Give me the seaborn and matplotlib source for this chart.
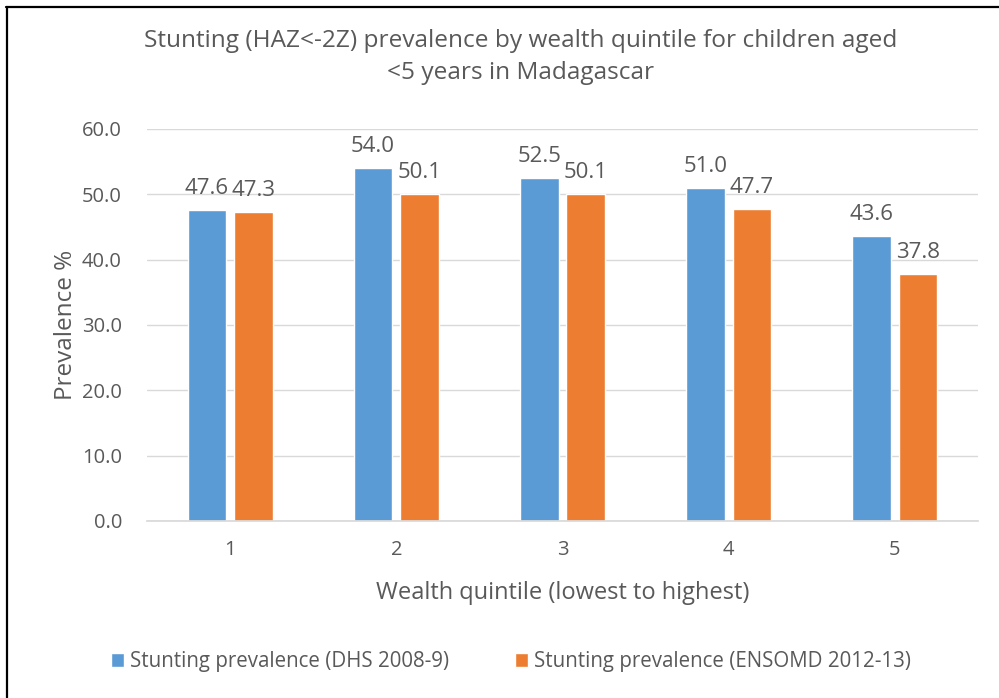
import matplotlib
matplotlib.use("Agg")
import matplotlib.pyplot as plt
import seaborn as sns
import pandas as pd
from matplotlib.lines import Line2D

quintiles = ["1", "2", "3", "4", "5"]
dhs_2008 = [47.6, 54.0, 52.5, 51.0, 43.6]
ensomd_2012 = [47.3, 50.1, 50.1, 47.7, 37.8]
series_names = ["Stunting prevalence (DHS 2008-9)", "Stunting prevalence (ENSOMD 2012-13)"]
y_ticks = [0, 10, 20, 30, 40, 50, 60]

df = pd.DataFrame({
    "quintile": quintiles * 2,
    "value": dhs_2008 + ensomd_2012,
    "series": [series_names[0]] * 5 + [series_names[1]] * 5,
})

sns.set_theme(style="white")
plt.rcParams["font.family"] = ["Open Sans", "DejaVu Sans"]
grey = "#595959"

fig = plt.figure(figsize=(9.99, 6.98), dpi=100)
ax = fig.add_axes([147 / 999, 1 - 521 / 698, (978 - 147) / 999, (521 - 129) / 698])

sns.barplot(data=df, x="quintile", y="value", hue="series", order=quintiles,
            palette=["#5B9BD5", "#ED7D31"], width=0.56, gap=0.17, ax=ax,
            legend=True, saturation=1)

for cont in ax.containers:
    ax.bar_label(cont, fmt="%.1f", padding=8, fontsize=16, color=grey)

ax.set_ylim(0, 60)
ax.set_yticks(y_ticks)
ax.set_yticklabels([f"{t:.1f}" for t in y_ticks])
ax.yaxis.grid(True, color="#D9D9D9", linewidth=1)
ax.set_axisbelow(True)
for s in ["left", "right", "top"]:
    ax.spines[s].set_visible(False)
ax.spines["bottom"].set_color("#D9D9D9")
ax.tick_params(axis="both", length=0, labelsize=14.5, labelcolor=grey)
ax.tick_params(axis="y", pad=18)
ax.tick_params(axis="x", pad=14)
ax.set_xlabel("Wealth quintile (lowest to highest)", fontsize=17, color=grey, labelpad=15)
ax.set_ylabel("Prevalence %", fontsize=17.5, color=grey, labelpad=3)

handles, labels = ax.get_legend_handles_labels()
ax.get_legend().remove()
fig.legend(handles, labels, loc="center", bbox_to_anchor=(511 / 999, 1 - 662 / 698),
           ncol=2, frameon=False, fontsize=14.8, labelcolor=grey,
           handlelength=0.65, handleheight=0.65, handletextpad=0.3, columnspacing=3.2)

fig.text(521 / 999, 1 - 57 / 698,
         "Stunting (HAZ<-2Z) prevalence by wealth quintile for children aged\n<5 years in Madagascar",
         ha="center", va="center", fontsize=17.6, color=grey, linespacing=1.45)

fig.add_artist(Line2D([6.5 / 999, 6.5 / 999], [0, 1 - 7 / 698], color="black", linewidth=1.6))
fig.add_artist(Line2D([6 / 999, 1], [1 - 7 / 698, 1 - 7 / 698], color="black", linewidth=1.6))

fig.savefig("out.png", dpi=100)
